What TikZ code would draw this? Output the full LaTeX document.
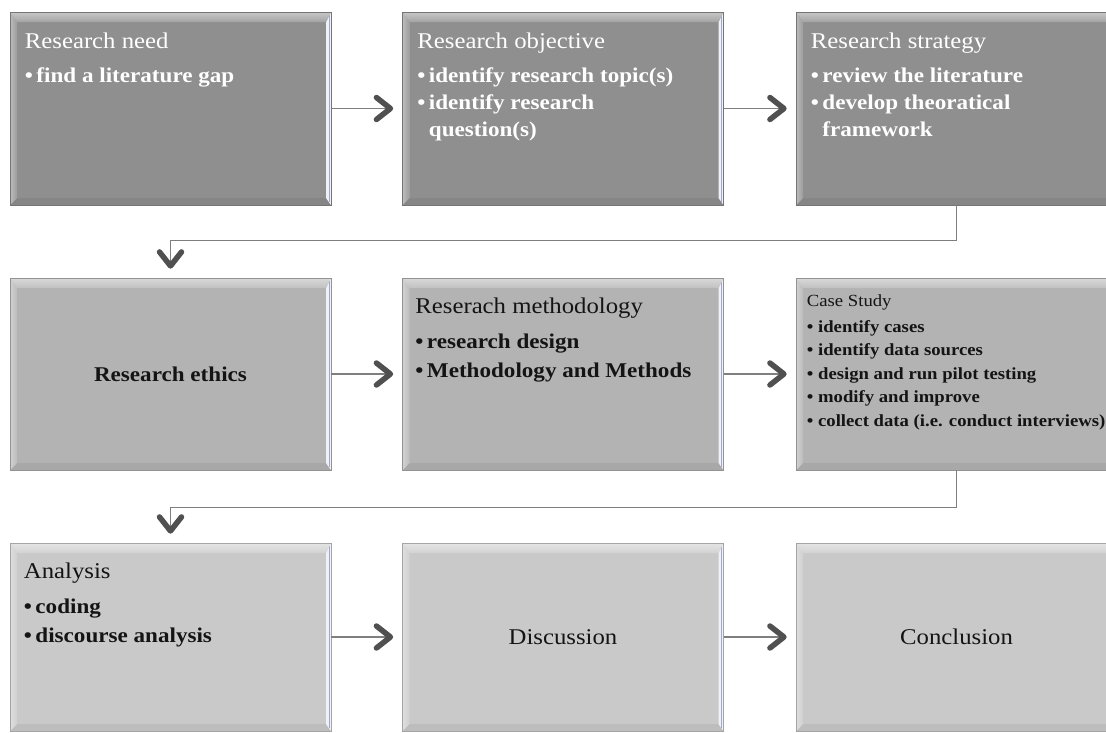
\documentclass[tikz,border=0pt]{standalone}
\usepackage{fontspec}
\setmainfont{Liberation Serif}[FakeStretch=1.1]
\usetikzlibrary{arrows.meta,calc}

\definecolor{rowA}{HTML}{8F8F8F}
\definecolor{rowB}{HTML}{B3B3B3}
\definecolor{rowC}{HTML}{C9C9C9}
\definecolor{linkgray}{HTML}{7F7F7F}
\definecolor{tipgray}{HTML}{505050}
\definecolor{edgeblue}{HTML}{EEF2F6}
\definecolor{inkdark}{HTML}{141414}

\tikzset{
  % raised panel: flat face with a light top and left rim, a slightly darker lower rim
  bevelbox/.style={rectangle, inner sep=0pt, fill=#1, draw=#1!82!black, line width=0.6pt,
    minimum width=321pt, minimum height=192pt,
    path picture={
      \coordinate (pnw) at (path picture bounding box.north west);
      \coordinate (pne) at (path picture bounding box.north east);
      \coordinate (psw) at (path picture bounding box.south west);
      \coordinate (pse) at (path picture bounding box.south east);
      \fill[#1!94!black] (psw) -- (pse) -- ([shift={(-5,-7)}]pse) -- ([shift={(7,-7)}]psw) -- cycle;
      \shade[left color=white!40!#1, right color=white!12!#1]
        (pnw) -- ([shift={(7,10)}]pnw) -- ([shift={(7,-7)}]psw) -- (psw) -- cycle;
      \fill[edgeblue] (pne) -- (pse) -- ([shift={(-5,-7)}]pse) -- ([shift={(-5,10)}]pne) -- cycle;
      \draw[line width=0.5pt, white!75!blue!60!gray] ([shift={(-2,3)}]pne) -- ([shift={(-2,-3)}]pse);
      \shade[top color=white!50!#1, bottom color=white!18!#1]
        (pnw) -- (pne) -- ([shift={(-5,10)}]pne) -- ([shift={(7,10)}]pnw) -- cycle;
    }},
  paneltext/.style={anchor=north west, inner sep=0pt, align=left},
  centretext/.style={inner sep=0pt, align=center},
  bigtype/.style={font=\fontsize{21}{#1}\selectfont},
  headtype/.style={font=\fontsize{22.5}{27}\selectfont},
  link/.style={draw=linkgray, line width=1.3pt, shorten >=9pt,
    -{Straight Barb[length=14pt, width=22pt, line width=5.5pt 0, round, color=tipgray]}},
}

\begin{document}
\begin{tikzpicture}[x=1pt, y=-1pt]
  \clip (0,0) rectangle (1106,732);
  \fill[white] (0,0) rectangle (1106,732);

  % first row
  \node[bevelbox=rowA, minimum height=193pt] (need) at (170.5,108.5) {};
  \node[bevelbox=rowA, minimum height=193pt] (objective) at (563,108.5) {};
  \node[bevelbox=rowA, minimum height=193pt] (strategy) at (956.5,108.5) {};

  % second row
  \node[bevelbox=rowB] (ethics) at (170.5,374) {};
  \node[bevelbox=rowB] (method) at (563,374) {};
  \node[bevelbox=rowB] (casestudy) at (956.5,374) {};

  % third row
  \node[bevelbox=rowC, minimum height=188pt] (analysis) at (170.5,637) {};
  \node[bevelbox=rowC, minimum height=188pt] (discussion) at (563,637) {};
  \node[bevelbox=rowC, minimum height=188pt] (conclusion) at (956.5,637) {};

  % panel texts
  \node[paneltext, bigtype=27, text=white] (needtxt) at ($(need.north west)+(15,21)$)
    {{\fontsize{22.5}{27}\selectfont Research need}\\[7pt]\textbf{•\,find a literature gap}};
  \node[paneltext, bigtype=27, text=white] (objtxt) at ($(objective.north west)+(15,21)$)
    {{\fontsize{22.5}{27}\selectfont Research objective}\\[7pt]\textbf{•\,identify research topic(s)}\\
     \textbf{•\,identify research}\\\textbf{\phantom{•\,}question(s)}};
  \node[paneltext, bigtype=27, text=white] (strtxt) at ($(strategy.north west)+(15,21)$)
    {{\fontsize{22.5}{27}\selectfont Research strategy}\\[7pt]\textbf{•\,review the literature}\\
     \textbf{•\,develop theoratical}\\\textbf{\phantom{•\,}framework}};

  \node[centretext, font=\fontsize{21}{27}\selectfont\bfseries, text=inkdark] (ethtxt)
    at (ethics.center) {Research ethics};
  \node[paneltext, bigtype=29, text=inkdark] (methtxt) at ($(method.north west)+(13,20)$)
    {{\fontsize{22.5}{29}\selectfont Reserach methodology}\\[6pt]\textbf{•\,research design}\\
     \textbf{•\,Methodology and Methods}};
  \node[paneltext, font=\fontsize{17}{23.5}\selectfont, text=inkdark] (casetxt)
    at ($(casestudy.north west)+(11,17)$)
    {Case Study\\[2pt]\textbf{• identify cases}\\\textbf{• identify data sources}\\
     \textbf{• design and run pilot testing}\\\textbf{• modify and improve}\\
     \textbf{• collect data (i.e. conduct interviews)}};

  \node[paneltext, bigtype=29, text=inkdark] (anatxt) at ($(analysis.north west)+(14,20)$)
    {{\fontsize{22.5}{29}\selectfont Analysis}\\[6pt]\textbf{•\,coding}\\\textbf{•\,discourse analysis}};
  \node[centretext, headtype, text=inkdark] (disctxt) at (discussion.center) {Discussion};
  \node[centretext, headtype, text=inkdark] (conctxt) at (conclusion.center) {Conclusion};

  % connectors
  \draw[link] (need.east) -- (objective.west);
  \draw[link] (objective.east) -- (strategy.west);
  \draw[link] (strategy.south) -- ++(0,35) -| (ethics.north);
  \draw[link] (ethics.east) -- (method.west);
  \draw[link] (method.east) -- (casestudy.west);
  \draw[link] (casestudy.south) -- ++(0,37) -| (analysis.north);
  \draw[link] (analysis.east) -- (discussion.west);
  \draw[link] (discussion.east) -- (conclusion.west);
\end{tikzpicture}
\end{document}
